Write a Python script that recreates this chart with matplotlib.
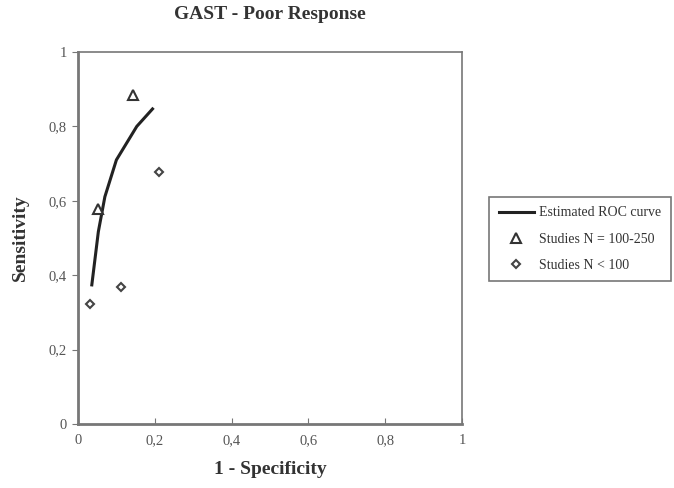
import matplotlib.pyplot as plt
from matplotlib.ticker import FuncFormatter

plt.rcParams['font.family'] = ['Liberation Serif', 'DejaVu Serif']

# Estimated summary ROC curve
roc_fpr = [0.036, 0.053, 0.070, 0.100, 0.153, 0.194]
roc_tpr = [0.374, 0.517, 0.611, 0.710, 0.800, 0.847]

# Individual studies by sample size
mid_fpr = [0.051, 0.142]
mid_tpr = [0.578, 0.884]
small_fpr = [0.031, 0.112, 0.212]
small_tpr = [0.322, 0.369, 0.678]

ticks = [0, 0.2, 0.4, 0.6, 0.8, 1]

fig = plt.figure(figsize=(6.74, 4.88), dpi=100)
ax = fig.add_axes([0.1157, 0.1311, 0.57, 0.7623])

ax.plot(roc_fpr, roc_tpr, color='#222222', lw=2.2, label='Estimated ROC curve')
ax.plot(mid_fpr, mid_tpr, ls='none', marker='^', ms=7, mfc='white',
        mec='#333333', mew=1.5, label='Studies N = 100-250')
ax.plot(small_fpr, small_tpr, ls='none', marker='D', ms=4, mfc='white',
        mec='#444444', mew=1.5, label='Studies N < 100')

ax.set_xlim(0, 1)
ax.set_ylim(0, 1)
ax.set_xticks(ticks)
ax.set_yticks(ticks)
# decimal comma labels
fmt = FuncFormatter(lambda v, p: ('%g' % v).replace('.', ','))
ax.xaxis.set_major_formatter(fmt)
ax.yaxis.set_major_formatter(fmt)

for s in ax.spines.values():
    s.set_color('#777777')
    s.set_linewidth(1.2)
ax.spines['left'].set_linewidth(2)
ax.spines['bottom'].set_linewidth(2)
ax.tick_params(length=4, color='#777777', labelsize=10.5, labelcolor='#555555')
ax.tick_params(axis='y', direction='out', pad=4)
ax.tick_params(axis='x', direction='in', pad=7)

ax.set_title('GAST - Poor Response', fontsize=14, fontweight='bold',
             color='#333333', pad=24)
ax.set_xlabel('1 - Specificity', fontsize=14, fontweight='bold',
              color='#333333', labelpad=10)
ax.set_ylabel('Sensitivity', fontsize=14, fontweight='bold',
              color='#333333', labelpad=14)

leg = fig.legend(loc='upper left', bbox_to_anchor=(0.726, 0.597),
                 borderaxespad=0, frameon=True, fancybox=False, fontsize=10,
                 handlelength=2.5, handletextpad=0.4, borderpad=0.7,
                 labelspacing=0.95)
leg.get_frame().set_edgecolor('#555555')
leg.get_frame().set_linewidth(1.2)
for t in leg.get_texts():
    t.set_color('#333333')

fig.savefig('out.png', dpi=100)
